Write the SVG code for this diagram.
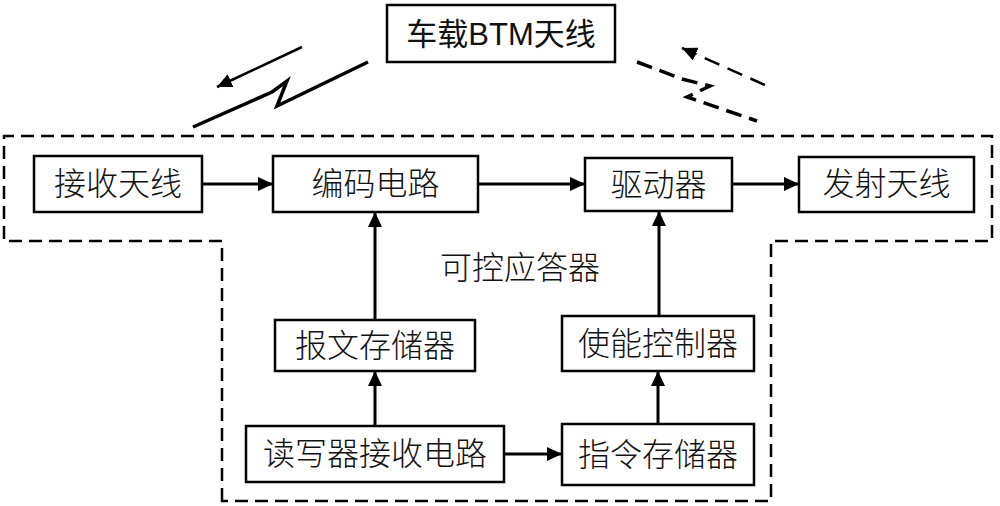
<svg xmlns="http://www.w3.org/2000/svg" width="1000" height="506" viewBox="0 0 1000 506">
<defs>
<style>
.box{fill:#fff;stroke:#000;stroke-width:2.5}
.lbl{font-family:"Liberation Sans","Noto Sans CJK SC",sans-serif;font-size:31px;fill:#111;text-anchor:middle}
.cn{font-family:"Noto Sans CJK SC",sans-serif;font-size:32px;fill:#111;text-anchor:middle;font-weight:300}
.conn{stroke:#000;stroke-width:3;fill:none}
.dash{stroke:#000;stroke-width:2.5;fill:none;stroke-dasharray:13 7}
</style>
<marker id="ah" markerUnits="userSpaceOnUse" markerWidth="15" markerHeight="14" refX="15" refY="7" orient="auto">
<path d="M0,0 L15,7 L0,14 z" fill="#000"/>
</marker>
</defs>
<rect width="1000" height="506" fill="#fff"/>

<g id="boundary">
<path class="dash" d="M222,501 L222,241 L4,241 L4,136 L992,136 L992,241 L771,241 L771,501 Z"/>
</g>

<g id="bt-antenna">
<rect class="box" x="387" y="5" width="228" height="57"/>
<text class="lbl" x="501" y="45">车载BTM天线</text>
</g>
<g id="label-transponder">
<text class="cn" x="520" y="279">可控应答器</text>
</g>
<g id="rx-antenna">
<rect class="box" x="34" y="156" width="168" height="56"/>
<text class="cn" x="118" y="195">接收天线</text>
</g>
<g id="encoder">
<rect class="box" x="273" y="156" width="205" height="56"/>
<text class="cn" x="375.5" y="195">编码电路</text>
</g>
<g id="driver">
<rect class="box" x="585" y="158" width="147" height="53"/>
<text class="cn" x="658.5" y="196">驱动器</text>
</g>
<g id="tx-antenna">
<rect class="box" x="799" y="157" width="175" height="55"/>
<text class="cn" x="886.5" y="195">发射天线</text>
</g>
<g id="msg-memory">
<rect class="box" x="275" y="320" width="200" height="51"/>
<text class="cn" x="375" y="357">报文存储器</text>
</g>
<g id="enable-ctrl">
<rect class="box" x="562" y="316" width="192" height="55"/>
<text class="cn" x="658" y="355">使能控制器</text>
</g>
<g id="reader-rx">
<rect class="box" x="246" y="426" width="258" height="56"/>
<text class="cn" x="375" y="465">读写器接收电路</text>
</g>
<g id="cmd-memory">
<rect class="box" x="562" y="424" width="192" height="61"/>
<text class="cn" x="658" y="466">指令存储器</text>
</g>

<g id="connectors">
<line class="conn" x1="202" y1="184" x2="273" y2="184" marker-end="url(#ah)"/>
<line class="conn" x1="478" y1="184" x2="585" y2="184" marker-end="url(#ah)"/>
<line class="conn" x1="732" y1="184" x2="799" y2="184" marker-end="url(#ah)"/>
<line class="conn" x1="375" y1="320" x2="375" y2="212" marker-end="url(#ah)"/>
<line class="conn" x1="659" y1="316" x2="659" y2="211" marker-end="url(#ah)"/>
<line class="conn" x1="375" y1="426" x2="375" y2="371" marker-end="url(#ah)"/>
<line class="conn" x1="658" y1="424" x2="658" y2="371" marker-end="url(#ah)"/>
<line class="conn" x1="504" y1="454" x2="562" y2="454" marker-end="url(#ah)"/>
</g>

<g id="wireless">
<line x1="302" y1="47" x2="217" y2="87" stroke="#000" stroke-width="2.5" marker-end="url(#ah)"/>
<polyline points="193,127 272,92 287,81 277,106 368,62" fill="none" stroke="#000" stroke-width="3.5" stroke-linejoin="miter"/>
<line x1="765" y1="85" x2="682" y2="48" stroke="#000" stroke-width="2.5" stroke-dasharray="16 9" marker-end="url(#ah)"/>
<polyline points="637,62 682,79 710,86 687,97 757,121" fill="none" stroke="#000" stroke-width="3.5" stroke-dasharray="16 8"/>
</g>
</svg>
